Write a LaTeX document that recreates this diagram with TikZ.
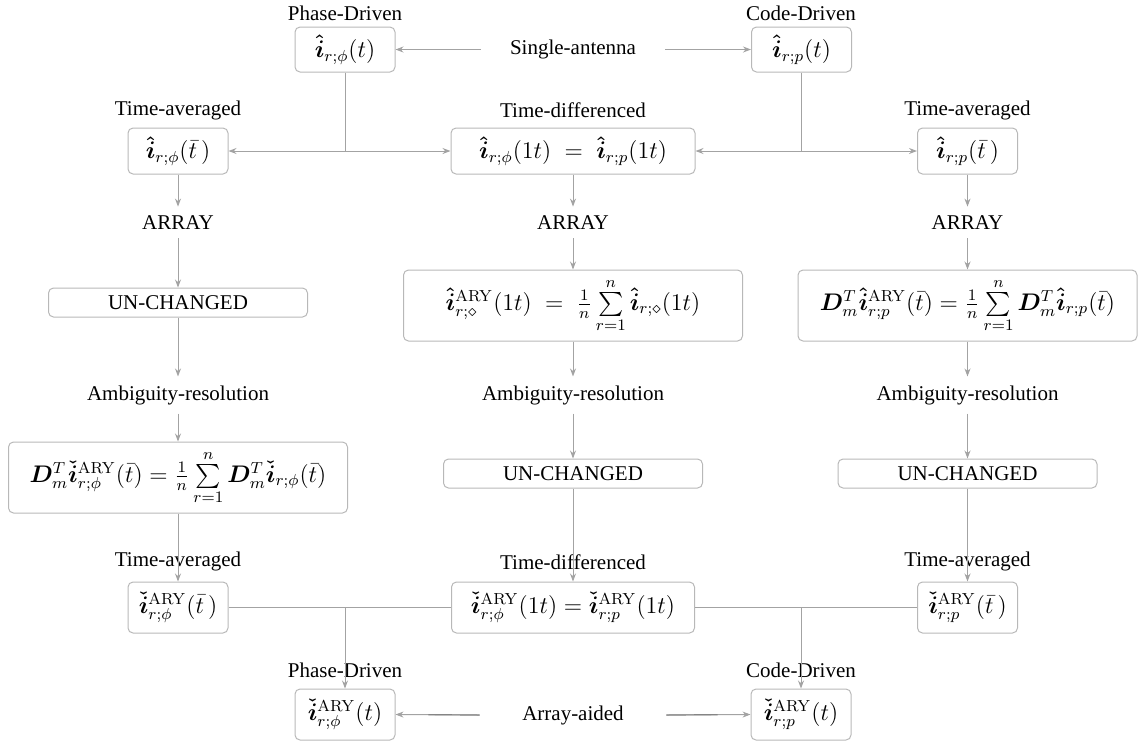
\documentclass[tikz,border=0pt]{standalone}
\usepackage{amsmath,amssymb}
\usepackage{bm}
\usepackage[no-math]{fontspec}
\setmainfont{Liberation Serif}
\usetikzlibrary{arrows.meta,calc}

\definecolor{boxgray}{gray}{0.72}
\definecolor{linegray}{gray}{0.64}
\definecolor{linedark}{gray}{0.52}

% formulas are set a little larger than the labels
\newcommand{\eqtext}[1]{{\fontsize{12}{14}\selectfont$#1$}}
\newcommand{\ihat}{\bm{\hat{i}}}
\newcommand{\icheck}{\bm{\check{i}}}

\tikzset{
  every node/.style={font=\fontsize{10.5}{12}\selectfont},
  box/.style={draw=boxgray, line width=0.5pt, rounded corners=2.5pt, inner sep=0pt, align=center},
  tag/.style={inner sep=4.3pt},
  conn/.style={draw=linegray, line width=0.5pt, -{Stealth[length=4pt,width=3pt]}},
  link/.style={draw=linegray, line width=0.5pt},
  linkdark/.style={draw=linedark, line width=0.6pt},
  small/.style={box, minimum width=50pt, minimum height=23pt},
  lowbox/.style={box, minimum width=50pt, minimum height=25.5pt},
  flat/.style={box, minimum width=129.5pt, minimum height=14.5pt},
  sumbox/.style={box, minimum width=169.5pt, minimum height=35.5pt},
}

\begin{document}
\begin{tikzpicture}[x=0.5pt, y=-0.5pt]
\useasboundingbox (0,0) rectangle (1141,746);

% single-antenna estimates
\node[tag] (pdtop) at (345,13) {Phase-Driven};
\node[tag] (cdtop) at (801,13) {Code-Driven};
\node[box, minimum width=50pt, minimum height=22.5pt] (bphi) at (345,49.5) {\eqtext{\ihat_{r;\phi}(t)}};
\node[box, minimum width=50pt, minimum height=22.5pt] (bp) at (801.5,49.5) {\eqtext{\ihat_{r;p}(t)}};
\node[tag, minimum width=92pt] (sa) at (573,49.5) {Single-antenna};
\draw[conn] (sa.west) -- (bphi.east);
\draw[conn] (sa.east) -- (bp.west);

% time-averaged / time-differenced
\node[tag] (talab) at (178,110) {Time-averaged};
\node[tag] (tdlab) at (573,110) {Time-differenced};
\node[tag] (trlab) at (967.5,110) {Time-averaged};
\node[small] (ta) at (178,151) {\eqtext{\ihat_{r;\phi}(\bar{t}\,)}};
\node[small, minimum width=122pt] (td) at (573,151) {\eqtext{\ihat_{r;\phi}(1t)\;=\;\ihat_{r;p}(1t)}};
\node[small] (tr) at (967.5,151) {\eqtext{\ihat_{r;p}(\bar{t}\,)}};
\coordinate (jphi) at (bphi.south |- ta.east);
\coordinate (jp) at (bp.south |- tr.west);
\draw[link] (bphi.south) -- (jphi);
\draw[conn] (jphi) -- (ta.east);
\draw[conn] (jphi) -- (td.west);
\draw[link] (bp.south) -- (jp);
\draw[conn] (jp) -- (td.east);
\draw[conn] (jp) -- (tr.west);

% array step
\node[tag] (ar1) at (178,222.5) {ARRAY};
\node[tag] (ar2) at (573,222.5) {ARRAY};
\node[tag] (ar3) at (967.5,222.5) {ARRAY};
\draw[conn] (ta.south) -- (ar1.north);
\draw[conn] (td.south) -- (ar2.north);
\draw[conn] (tr.south) -- (ar3.north);

\node[flat] (uc1) at (178,302.5) {UN-CHANGED};
\node[sumbox] (s2) at (573,305.5) {\eqtext{\ihat^{\mathrm{ARY}}_{r;\diamond}(1t)\;=\;\frac{1}{n}\sum\limits_{r=1}^{n}\ihat_{r;\diamond}(1t)}};
\node[sumbox] (s3) at (967.5,305.5) {\eqtext{\bm{D}_m^T\ihat^{\mathrm{ARY}}_{r;p}(\bar{t}) = \frac{1}{n}\sum\limits_{r=1}^{n}\bm{D}_m^T\ihat_{r;p}(\bar{t})}};
\draw[conn] (ar1.south) -- (uc1.north);
\draw[conn] (ar2.south) -- (s2.north);
\draw[conn] (ar3.south) -- (s3.north);

% ambiguity resolution
\node[tag] (am1) at (178,395) {Ambiguity-resolution};
\node[tag] (am2) at (573,395) {Ambiguity-resolution};
\node[tag] (am3) at (967.5,395) {Ambiguity-resolution};
\draw[conn] (uc1.south) -- (am1.north);
\draw[conn] (s2.south) -- (am2.north);
\draw[conn] (s3.south) -- (am3.north);

\node[sumbox] (s1) at (178,477.5) {\eqtext{\bm{D}_m^T\icheck^{\mathrm{ARY}}_{r;\phi}(\bar{t}) = \frac{1}{n}\sum\limits_{r=1}^{n}\bm{D}_m^T\icheck_{r;\phi}(\bar{t})}};
\node[flat] (uc2) at (573,473.5) {UN-CHANGED};
\node[flat] (uc3) at (967.5,473.5) {UN-CHANGED};
\draw[conn] (am1.south) -- (s1.north);
\draw[conn] (am2.south) -- (uc2.north);
\draw[conn] (am3.south) -- (uc3.north);

% array-aided estimates
\node[tag] (lalab) at (178,561) {Time-averaged};
\node[tag] (lmlab) at (573,562) {Time-differenced};
\node[tag] (lrlab) at (967.5,561) {Time-averaged};
\node[lowbox] (la) at (178,607.5) {\eqtext{\icheck^{\mathrm{ARY}}_{r;\phi}(\bar{t}\,)}};
\node[lowbox, minimum width=121.5pt] (lm) at (573,607.5) {\eqtext{\icheck^{\mathrm{ARY}}_{r;\phi}(1t) = \icheck^{\mathrm{ARY}}_{r;p}(1t)}};
\node[lowbox] (lr) at (967.5,607.5) {\eqtext{\icheck^{\mathrm{ARY}}_{r;p}(\bar{t}\,)}};
\draw[conn] (s1.south) -- (la.north);
\draw[conn] (uc2.south) -- (lm.north);
\draw[conn] (uc3.south) -- (lr.north);

\node[tag] (pdbot) at (345,670) {Phase-Driven};
\node[tag] (cdbot) at (801,670) {Code-Driven};
\node[lowbox] (bpa) at (345,714.5) {\eqtext{\icheck^{\mathrm{ARY}}_{r;\phi}(t)}};
\node[lowbox] (bca) at (801,714.5) {\eqtext{\icheck^{\mathrm{ARY}}_{r;p}(t)}};
\node[tag, minimum width=93pt] (aa) at (573,715) {Array-aided};

\coordinate (kphi) at (bpa.north |- la.east);
\coordinate (kp) at (bca.north |- lr.west);
\draw[link] (la.east) -- (lm.west);
\draw[link] (lm.east) -- (lr.west);
\draw[conn] (kphi) -- (bpa.north);
\draw[conn] (kp) -- (bca.north);

\draw[conn] (aa.west) -- (bpa.east);
\draw[conn] (aa.east) -- (bca.west);
\draw[linkdark] (aa.west) -- ($(aa.west)!0.61!(bpa.east)$);
\draw[linkdark] (aa.east) -- ($(aa.east)!0.61!(bca.west)$);
\end{tikzpicture}
\end{document}
